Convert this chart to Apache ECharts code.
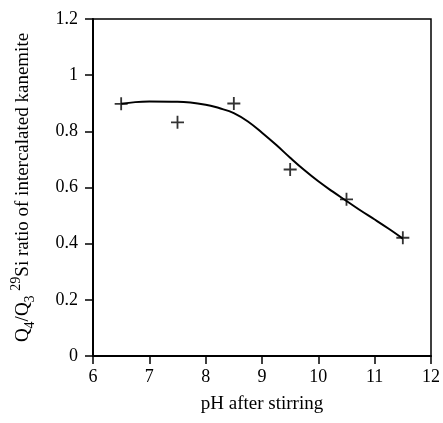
<!DOCTYPE html>
<html>
<head>
<meta charset="utf-8">
<title>Q4/Q3 ratio vs pH</title>
<script src="https://cdn.jsdelivr.net/npm/echarts@6.0.0/dist/echarts.min.js"></script>
<style>
    html, body { margin: 0; padding: 0; background: #fff; }
    #pic1 { width: 443px; height: 423px; }
</style>
</head>
<body>
<div id="pic1"></div>
<script>
// measured points (+)
var pointX = [6.5, 7.5, 8.5, 9.5, 10.5, 11.5];
var pointY = [0.898, 0.832, 0.899, 0.664, 0.558, 0.421];

// fitted curve
var curveX = [6.5, 6.75, 7.0, 7.5, 8.0, 8.25, 8.5, 8.75, 9.0, 9.25, 9.5, 9.75, 10.0, 10.25, 10.5, 10.75, 11.0, 11.25, 11.5];
var curveY = [0.898, 0.904, 0.906, 0.905, 0.895, 0.882, 0.865, 0.835, 0.795, 0.752, 0.706, 0.662, 0.622, 0.586, 0.552, 0.518, 0.486, 0.453, 0.418];

var xTicks = [6, 7, 8, 9, 10, 11, 12];
var yTicks = [0, 0.2, 0.4, 0.6, 0.8, 1, 1.2];

function draw_chart() {
    var myChart = echarts.init(document.getElementById('pic1'));

    var curve = [];
    for (var i = 0; i < curveX.length; i++) {
        curve.push([curveX[i], curveY[i]]);
    }
    var points = [];
    for (var j = 0; j < pointX.length; j++) {
        points.push([pointX[j], pointY[j]]);
    }

    var serif = 'Liberation Serif';
    var plus = 'path://M0,0.43H1V0.57H0Z M0.43,0H0.57V1H0.43Z';

    var option = {
        animation: false,
        backgroundColor: '#fff',
        grid: {
            left: 93, right: 12, top: 19, bottom: 67,
            containLabel: false,
            outerBoundsMode: 'none',
            show: true,
            borderColor: '#000',
            borderWidth: 1.5
        },
        xAxis: {
            type: 'value',
            min: xTicks[0],
            max: xTicks[xTicks.length - 1],
            interval: 1,
            name: 'pH after stirring',
            nameLocation: 'middle',
            nameGap: 39,
            nameTextStyle: { fontFamily: serif, fontSize: 19, color: '#000' },
            axisLine: { show: true, lineStyle: { color: '#000', width: 2 } },
            axisTick: { show: true, inside: false, length: 8, lineStyle: { color: '#000', width: 1.5 } },
            axisLabel: { fontFamily: serif, fontSize: 18, color: '#000', margin: 12 },
            splitLine: { show: false }
        },
        yAxis: {
            type: 'value',
            min: yTicks[0],
            max: yTicks[yTicks.length - 1],
            interval: 0.2,
            name: '{t|Q}{sub|4}{t|/Q}{sub|3}{t| }{sup|29}{t|Si ratio of intercalated kanemite}',
            nameLocation: 'middle',
            nameRotate: 90,
            nameGap: 56,
            nameTextStyle: {
                fontFamily: serif,
                color: '#000',
                rich: {
                    t: { fontFamily: serif, fontSize: 19, color: '#000', lineHeight: 28, verticalAlign: 'middle' },
                    sub: { fontFamily: serif, fontSize: 14, color: '#000', lineHeight: 15, verticalAlign: 'bottom' },
                    sup: { fontFamily: serif, fontSize: 14, color: '#000', lineHeight: 15, verticalAlign: 'top' }
                }
            },
            axisLine: { show: true, lineStyle: { color: '#000', width: 2 } },
            axisTick: { show: true, inside: false, length: 8, lineStyle: { color: '#000', width: 1.5 } },
            axisLabel: { fontFamily: serif, fontSize: 18, color: '#000', margin: 15 },
            splitLine: { show: false }
        },
        series: [
            {
                type: 'line',
                data: curve,
                smooth: 0.4,
                showSymbol: false,
                lineStyle: { color: '#000', width: 2 },
                z: 2
            },
            {
                type: 'scatter',
                data: points,
                symbol: plus,
                symbolSize: 13,
                itemStyle: { color: '#000' },
                z: 3
            }
        ]
    };
    myChart.setOption(option);
}

draw_chart();
</script>
</body>
</html>
